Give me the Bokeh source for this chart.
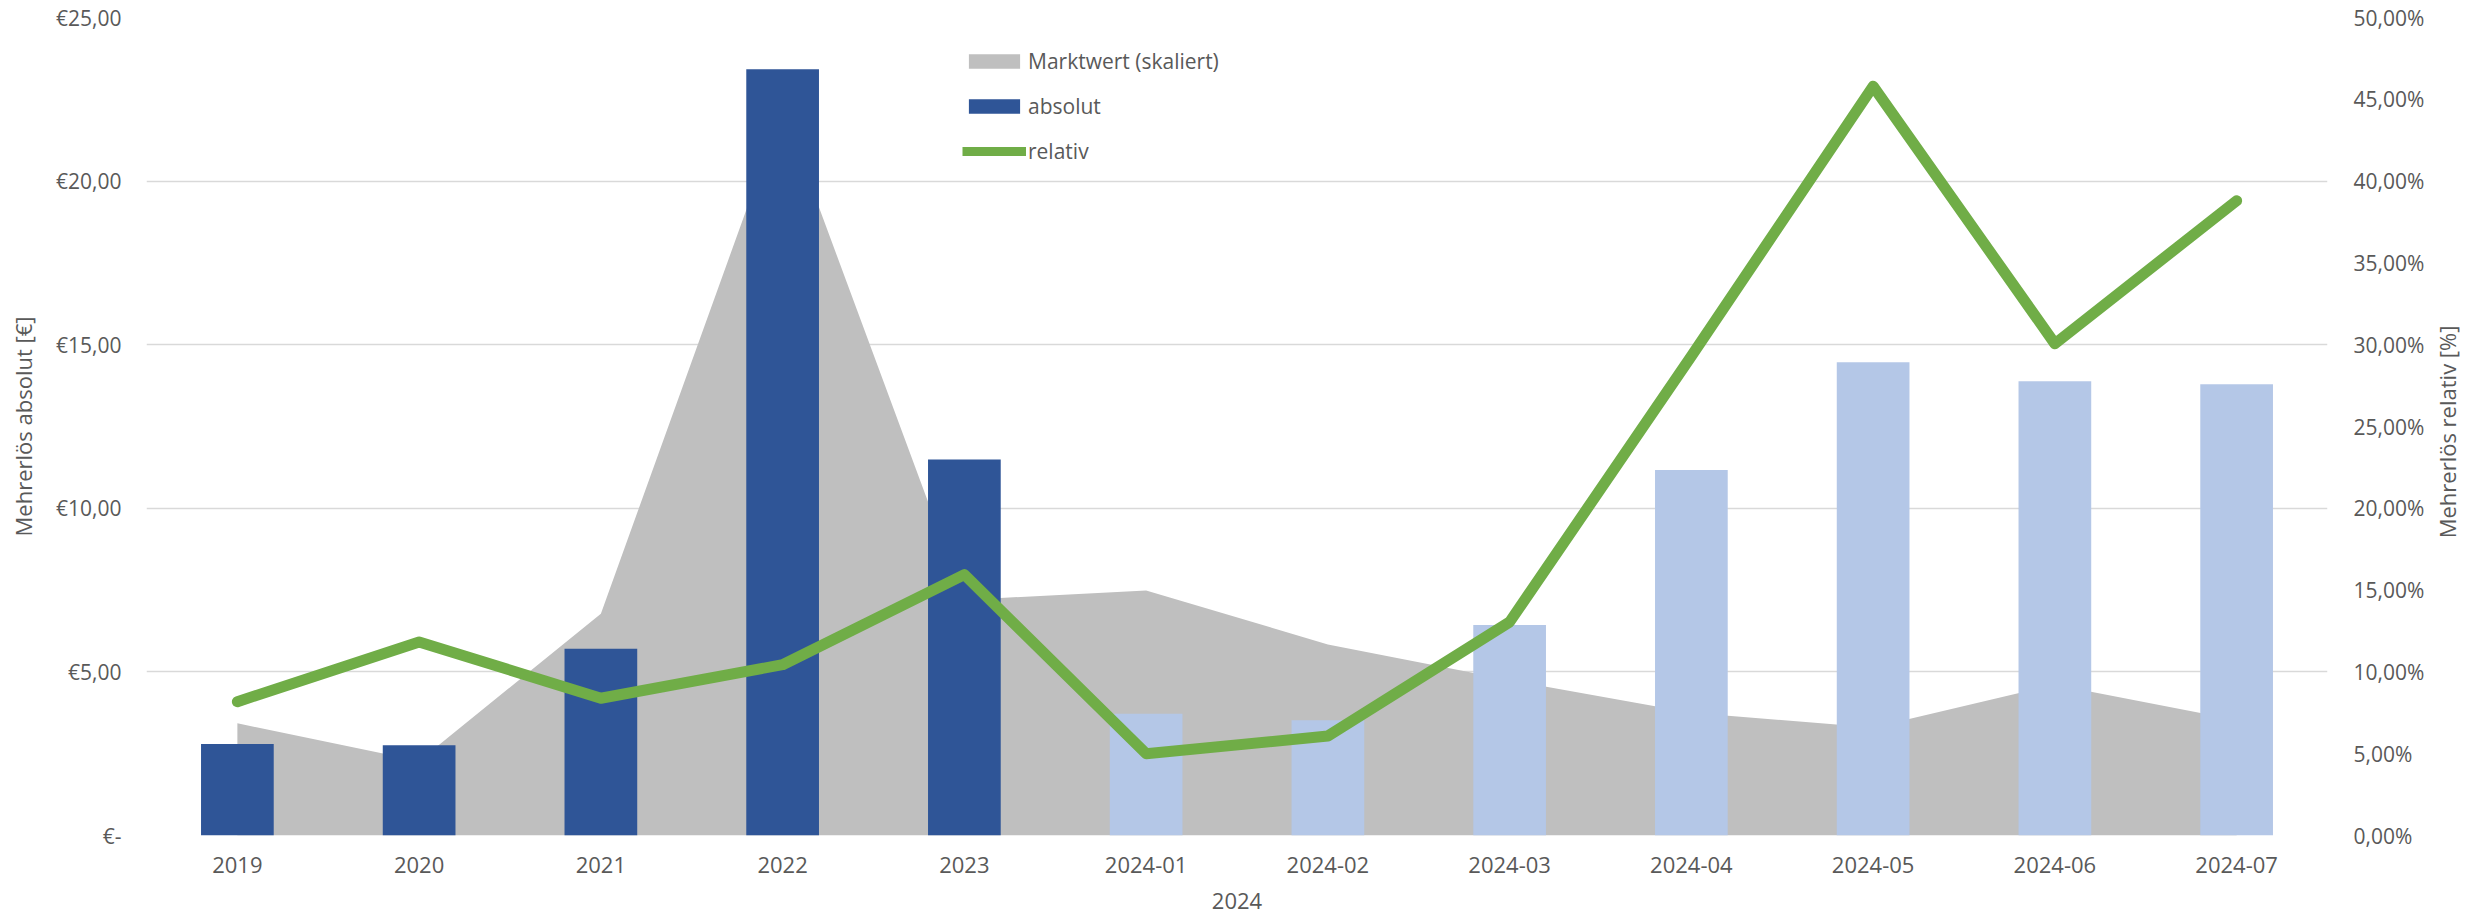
import math
from bokeh.plotting import figure
from bokeh.models import (ColumnDataSource, FactorRange, Range1d, LinearAxis, FixedTicker,
                          CustomJSTickFormatter, Legend, LegendItem)
from bokeh.embed import file_html
from bokeh.resources import INLINE

# ---------------- data ----------------
categories = ["2019", "2020", "2021", "2022", "2023", "2024-01", "2024-02",
              "2024-03", "2024-04", "2024-05", "2024-06", "2024-07"]
absolut = [2.80, 2.76, 5.71, 23.42, 11.49, 3.72, 3.52, 6.43, 11.17, 14.46, 13.88, 13.79]
relativ = [8.18, 11.83, 8.39, 10.44, 15.95, 5.00, 6.08, 13.05, 29.30, 45.80, 30.06, 38.80]
marktwert = [3.43, 2.28, 6.78, 22.20, 7.20, 7.49, 5.84, 4.75, 3.75, 3.30, 4.61, 3.53]
periode = ["Jahr"] * 5 + ["Monat"] * 7

left_ticks = [0, 5, 10, 15, 20, 25]
right_ticks = [0, 5, 10, 15, 20, 25, 30, 35, 40, 45, 50]

# ---------------- style ----------------
FONT = "Open Sans"
TXT = "#595959"
DARK = "#2F5597"
LIGHT = "#B4C7E7"
GRAY = "#BFBFBF"
GREEN = "#70AD47"
GRID = "#D9D9D9"

p = figure(width=2481, height=918, x_range=FactorRange(*categories),
           y_range=Range1d(0, 25), output_backend="svg", toolbar_location=None,
           min_border_left=146, min_border_right=154, min_border_top=17,
           min_border_bottom=83)
p.extra_y_ranges = {"pct": Range1d(0, 50)}
p.outline_line_color = None
p.background_fill_color = "white"
p.border_fill_color = "white"

src_all = ColumnDataSource(dict(x=categories, m=marktwert, r=relativ))
yearly = [i for i, k in enumerate(periode) if k == "Jahr"]
monthly = [i for i, k in enumerate(periode) if k == "Monat"]
src_y = ColumnDataSource(dict(x=[categories[i] for i in yearly], v=[absolut[i] for i in yearly]))
src_m = ColumnDataSource(dict(x=[categories[i] for i in monthly], v=[absolut[i] for i in monthly]))

area = p.varea(x="x", y1=0, y2="m", source=src_all, fill_color=GRAY)
bars_y = p.vbar(x="x", top="v", width=0.4, source=src_y, fill_color=DARK, line_color=None)
bars_m = p.vbar(x="x", top="v", width=0.4, source=src_m, fill_color=LIGHT, line_color=None)
line = p.line(x="x", y="r", source=src_all, y_range_name="pct", line_color=GREEN,
              line_width=11, line_join="round", line_cap="round")
# legend sample for the line (a single undefined point: draws nothing in the plot)
proxy = p.line(x=[categories[0]], y=[float("nan")], y_range_name="pct",
               line_color=GREEN, line_width=9, line_cap="butt")

# ---------------- axes ----------------
ax = p.yaxis[0]
ax.ticker = FixedTicker(ticks=left_ticks)
ax.formatter = CustomJSTickFormatter(code="""
    return tick == 0 ? "€-" : "€" + tick.toFixed(2).replace(".", ",");
""")
ax.axis_label = "Mehrerlös absolut [€]"

rax = LinearAxis(y_range_name="pct", ticker=FixedTicker(ticks=right_ticks),
                 formatter=CustomJSTickFormatter(code="""
    return tick.toFixed(2).replace(".", ",") + "%";
"""))
p.add_layout(rax, "right")

xa = p.xaxis[0]
xa.axis_label = "2024"

for a in (ax, rax, xa):
    a.axis_line_color = None
    a.major_tick_line_color = None
    a.minor_tick_line_color = None
    a.major_tick_out = 0
    a.major_tick_in = 0
    a.minor_tick_out = 0
    a.major_label_text_font = FONT
    a.major_label_text_font_size = "21px"
    a.major_label_text_color = TXT
    a.axis_label_text_font = FONT
    a.axis_label_text_font_size = "22px"
    a.axis_label_text_font_style = "normal"
    a.axis_label_text_color = TXT

ax.major_label_standoff = 25
ax.axis_label_standoff = 15
rax.major_label_standoff = 26
xa.major_label_standoff = 21
xa.major_label_text_font_size = "22px"
xa.axis_label_standoff = 17

# right axis title, reading bottom-to-top like the left one.
# A rotated numeric orientation anchors the text at its start, so it is anchored at the
# bottom of the axis and led by non-breaking spaces to sit centred on the axis.
rax.axis_label_orientation = math.pi / 2
rax.axis_label_align = "start"
rax.axis_label = "\u00a0" * 52 + "Mehrerlös relativ [%]"
rax.axis_label_standoff = 20

p.xgrid.grid_line_color = None
p.ygrid.ticker = FixedTicker(ticks=left_ticks)
p.ygrid.grid_line_color = GRID
p.ygrid.grid_line_width = 1.3

# ---------------- legend ----------------
legend = Legend(items=[LegendItem(label="Marktwert (skaliert)", renderers=[area]),
                       LegendItem(label="absolut", renderers=[bars_y]),
                       LegendItem(label="relativ", renderers=[proxy])],
                location=(816, 670), orientation="vertical",
                glyph_width=64, glyph_height=18, label_height=28, spacing=17,
                padding=0, margin=0, label_standoff=2,
                border_line_color=None, background_fill_alpha=0,
                label_text_font=FONT, label_text_font_size="21px", label_text_color=TXT)
p.add_layout(legend, "center")

open("out.html", "w").write(file_html(p, INLINE))
